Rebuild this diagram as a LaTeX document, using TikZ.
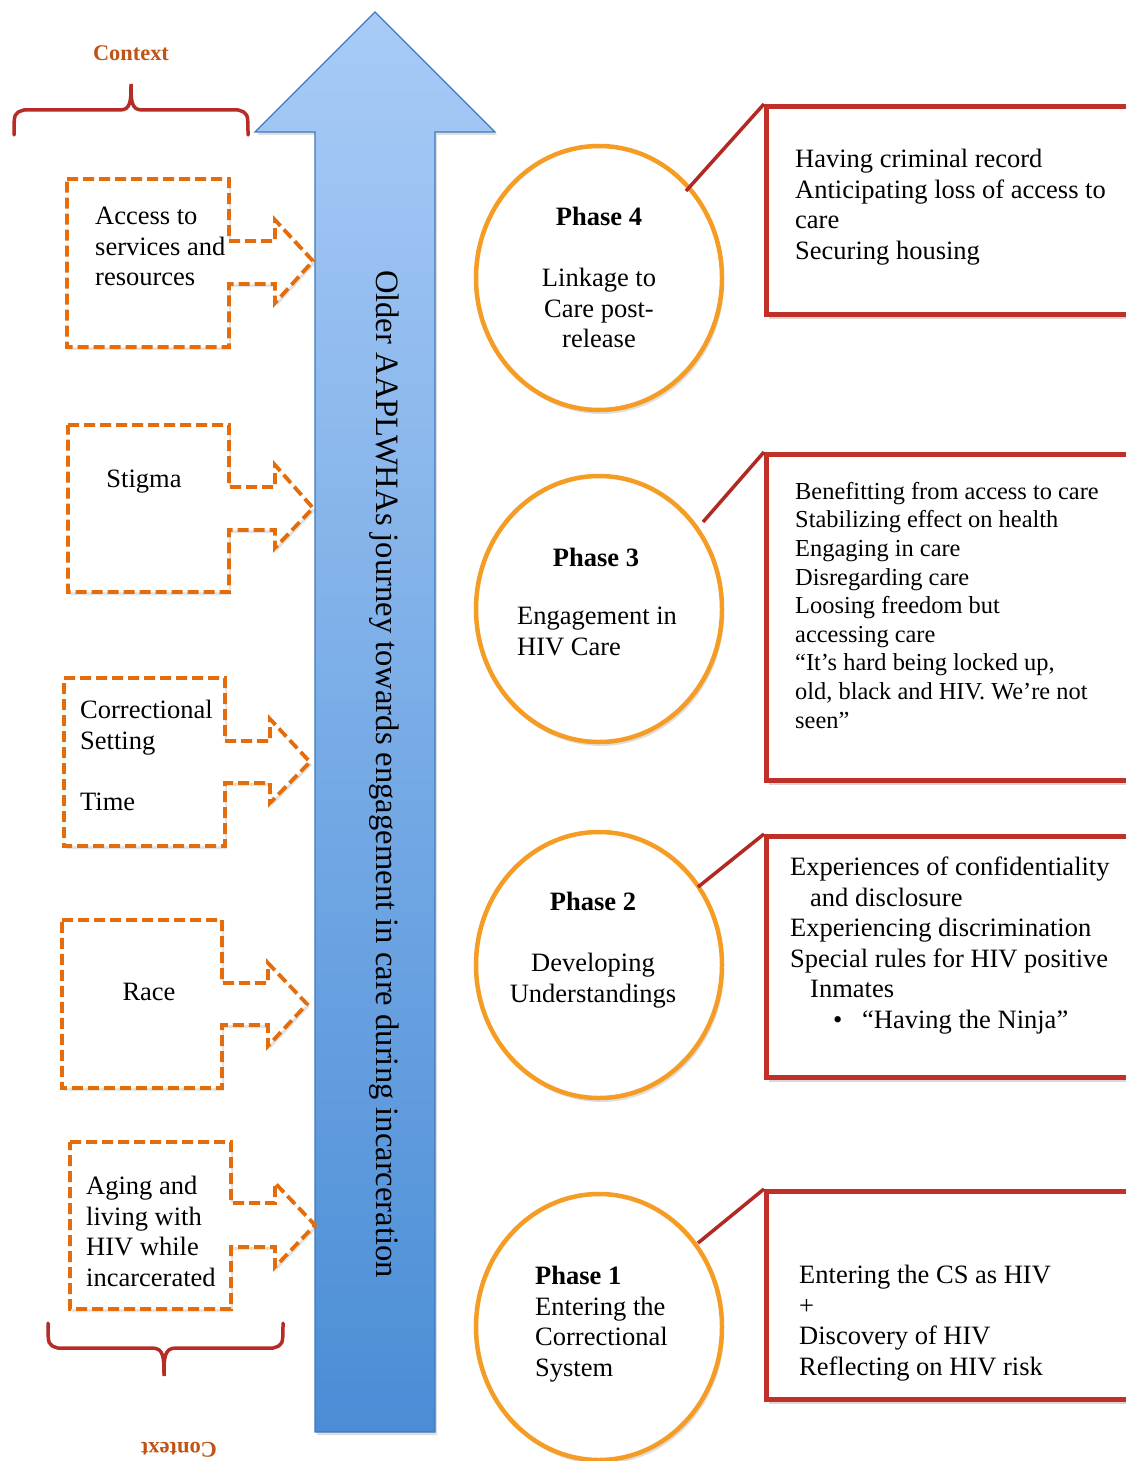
\documentclass[tikz,border=0pt]{standalone}
\usepackage{fontspec}
\setmainfont{Liberation Serif}
\usetikzlibrary{shadows,shapes.geometric}
\definecolor{dashorange}{RGB}{228,108,10}
\definecolor{circorange}{RGB}{244,156,36}
\definecolor{boxred}{RGB}{192,48,40}
\definecolor{linkred}{RGB}{178,40,34}
\definecolor{bracered}{RGB}{182,44,38}
\definecolor{ctxtext}{RGB}{192,84,22}
\definecolor{arrtop}{RGB}{168,203,247}
\definecolor{arrbot}{RGB}{74,141,214}
\definecolor{arredge}{RGB}{62,122,188}
\tikzset{
  ctxbox/.style={draw=dashorange, line width=3.8pt, dash pattern=on 11pt off 5pt, fill=white, line join=miter,
     drop shadow={opacity=0.22, shadow xshift=2pt, shadow yshift=-3pt}},
  phasecirc/.style={draw=circorange, line width=4.5pt, fill=white,
     drop shadow={opacity=0.25, shadow xshift=2pt, shadow yshift=-4pt}},
  themebox/.style={draw=boxred, line width=5pt, fill=white,
     drop shadow={opacity=0.3, shadow xshift=2pt, shadow yshift=-4pt}},
  linker/.style={draw=linkred, line width=3.5pt},
  ctxbrace/.style={draw=bracered, line width=3.5pt, line cap=round},
  ctxlabel/.style={text=ctxtext, font=\fontsize{22.4}{26}\selectfont\bfseries, inner sep=0pt},
  txt/.style={inner sep=0pt, font=\fontsize{26.5}{30.5}\selectfont},
  txtsmall/.style={inner sep=0pt, font=\fontsize{24.4}{28.6}\selectfont},
}
\begin{document}
\begin{tikzpicture}[x=1pt,y=-1pt]
\clip (0,0) rectangle (1126,1461);
\fill[white] (0,0) rectangle (1126,1461);

% big arrow
\shade[top color=arrtop, bottom color=arrbot, drop shadow={opacity=0.25, shadow xshift=2pt, shadow yshift=-3pt}]
  (375,12) -- (495,132) -- (435,132) -- (435,1432) -- (315,1432) -- (315,132) -- (255,132) -- cycle;
\draw[arredge, line width=1.2pt, line join=miter]
  (375,12) -- (495,132) -- (435,132) -- (435,1432) -- (315,1432) -- (315,132) -- (255,132) -- cycle;
\node[inner sep=0pt, rotate=-90, font=\fontsize{32.6}{36}\selectfont] (journey) at (384,774)
  {Older AAPLWHAs journey towards engagement in care during incarceration};

% context braces
\node[ctxlabel] (ctxtop) at (131,53) {Context};
\draw[ctxbrace] (14,135) .. controls (14,113) .. (24,110) -- (120,110)
  .. controls (131,110) and (131,100) .. (131,84)
  .. controls (131,100) and (131,110) .. (142,110) -- (238,110)
  .. controls (248,113) .. (248,135);
\node[ctxlabel, rotate=180] (ctxbot) at (179,1450) {Context};
\draw[ctxbrace] (48,1323) .. controls (48,1345) .. (58,1348) -- (152,1348)
  .. controls (164,1348) and (164,1358) .. (164,1376)
  .. controls (164,1358) and (164,1348) .. (176,1348) -- (273,1348)
  .. controls (283,1345) .. (283,1323);

% context boxes with arrows
\draw[ctxbox] (67,179) -- (229,179) -- (229,241) -- (275,241) -- (275,220) -- (313,261) -- (275,303) -- (275,284) -- (229,284) -- (229,347) -- (67,347) -- cycle;
\node[txt, anchor=north west, align=left] (access) at (95,207) {Access to\\services and\\resources};

\draw[ctxbox] (68,425) -- (229,425) -- (229,487) -- (275,487) -- (275,465) -- (313,508) -- (275,548) -- (275,530) -- (229,530) -- (229,592) -- (68,592) -- cycle;
\node[txt] (stigma) at (144,482) {Stigma};

\draw[ctxbox] (64,678) -- (225,678) -- (225,741) -- (270,741) -- (270,719) -- (310,762) -- (270,803) -- (270,783) -- (225,783) -- (225,846) -- (64,846) -- cycle;
\node[txt, anchor=north west, align=left] (setting) at (80,700) {Correctional\\Setting\\[30.5pt]Time};

\draw[ctxbox] (62,920) -- (222,920) -- (222,983) -- (268,983) -- (268,963) -- (307,1004) -- (268,1046) -- (268,1025) -- (222,1025) -- (222,1088) -- (62,1088) -- cycle;
\node[txt] (race) at (149,992) {Race};

\draw[ctxbox] (70,1142) -- (231,1142) -- (231,1203) -- (275,1203) -- (275,1183) -- (315,1225) -- (275,1267) -- (275,1247) -- (231,1247) -- (231,1309) -- (70,1309) -- cycle;
\node[txt, anchor=north west, align=left] (aging) at (86,1176) {Aging and\\living with\\HIV while\\incarcerated};

% phase circles
\node[phasecirc, ellipse, minimum width=246pt, minimum height=264pt] (p4) at (599,278) {};
\node[phasecirc, ellipse, minimum width=246pt, minimum height=266pt] (p3) at (599,609) {};
\node[phasecirc, ellipse, minimum width=246pt, minimum height=266pt] (p2) at (599,965) {};
\node[phasecirc, ellipse, minimum width=246pt, minimum height=266pt] (p1) at (599,1327) {};

\node[txt, anchor=north, align=center] (p4t) at (599,207) {\textbf{Phase 4}\\[30.5pt]Linkage to\\Care post-\\release};
\node[txt, font=\fontsize{26.5}{30.5}\selectfont\bfseries] (p3h) at (596,557) {Phase 3};
\node[txt, anchor=north west, align=left] (p3t) at (517,607) {Engagement in\\HIV Care};
\node[txt, anchor=north, align=center] (p2t) at (593,892) {\textbf{Phase 2}\\[30.5pt]Developing\\Understandings};
\node[txt, anchor=north west, align=left] (p1t) at (535,1266) {\textbf{Phase 1}\\Entering the\\Correctional\\System};

% theme boxes
\node[themebox, anchor=north west, minimum width=370pt, minimum height=208pt] (b4) at (764,104) {};
\node[themebox, anchor=north west, minimum width=370pt, minimum height=326pt] (b3) at (764,452) {};
\node[themebox, anchor=north west, minimum width=370pt, minimum height=241pt] (b2) at (764,834) {};
\node[themebox, anchor=north west, minimum width=370pt, minimum height=208pt] (b1) at (764,1189) {};

\node[txt, anchor=north west, align=left] (b4t) at (795,149) {Having criminal record\\Anticipating loss of access to\\care\\Securing housing};
\node[txtsmall, anchor=north west, align=left] (b3t) at (795,482) {Benefitting from access to care\\Stabilizing effect on health\\Engaging in care\\Disregarding care\\Loosing freedom but\\accessing care\\“It’s hard being locked up,\\old, black and HIV. We’re not\\seen”};
\node[txt, anchor=north west, align=left] (b2t) at (790,857) {Experiences of confidentiality\\\hspace*{20pt}and disclosure\\Experiencing discrimination\\Special rules for HIV positive\\\hspace*{20pt}Inmates\\\hspace*{43pt}\makebox[29pt][l]{\textbullet}“Having the Ninja”};
\node[txt, anchor=north west, align=left] (b1t) at (799,1265) {Entering the CS as HIV\\+\\Discovery of HIV\\Reflecting on HIV risk};

% connectors
\coordinate (c4) at (686,191);
\coordinate (c3) at (703,522);
\coordinate (c2) at (698,887);
\coordinate (c1) at (698,1243);
\draw[linker] (c4) -- (b4.north west);
\draw[linker] (c3) -- (b3.north west);
\draw[linker] (c2) -- (b2.north west);
\draw[linker] (c1) -- (b1.north west);
\end{tikzpicture}
\end{document}
